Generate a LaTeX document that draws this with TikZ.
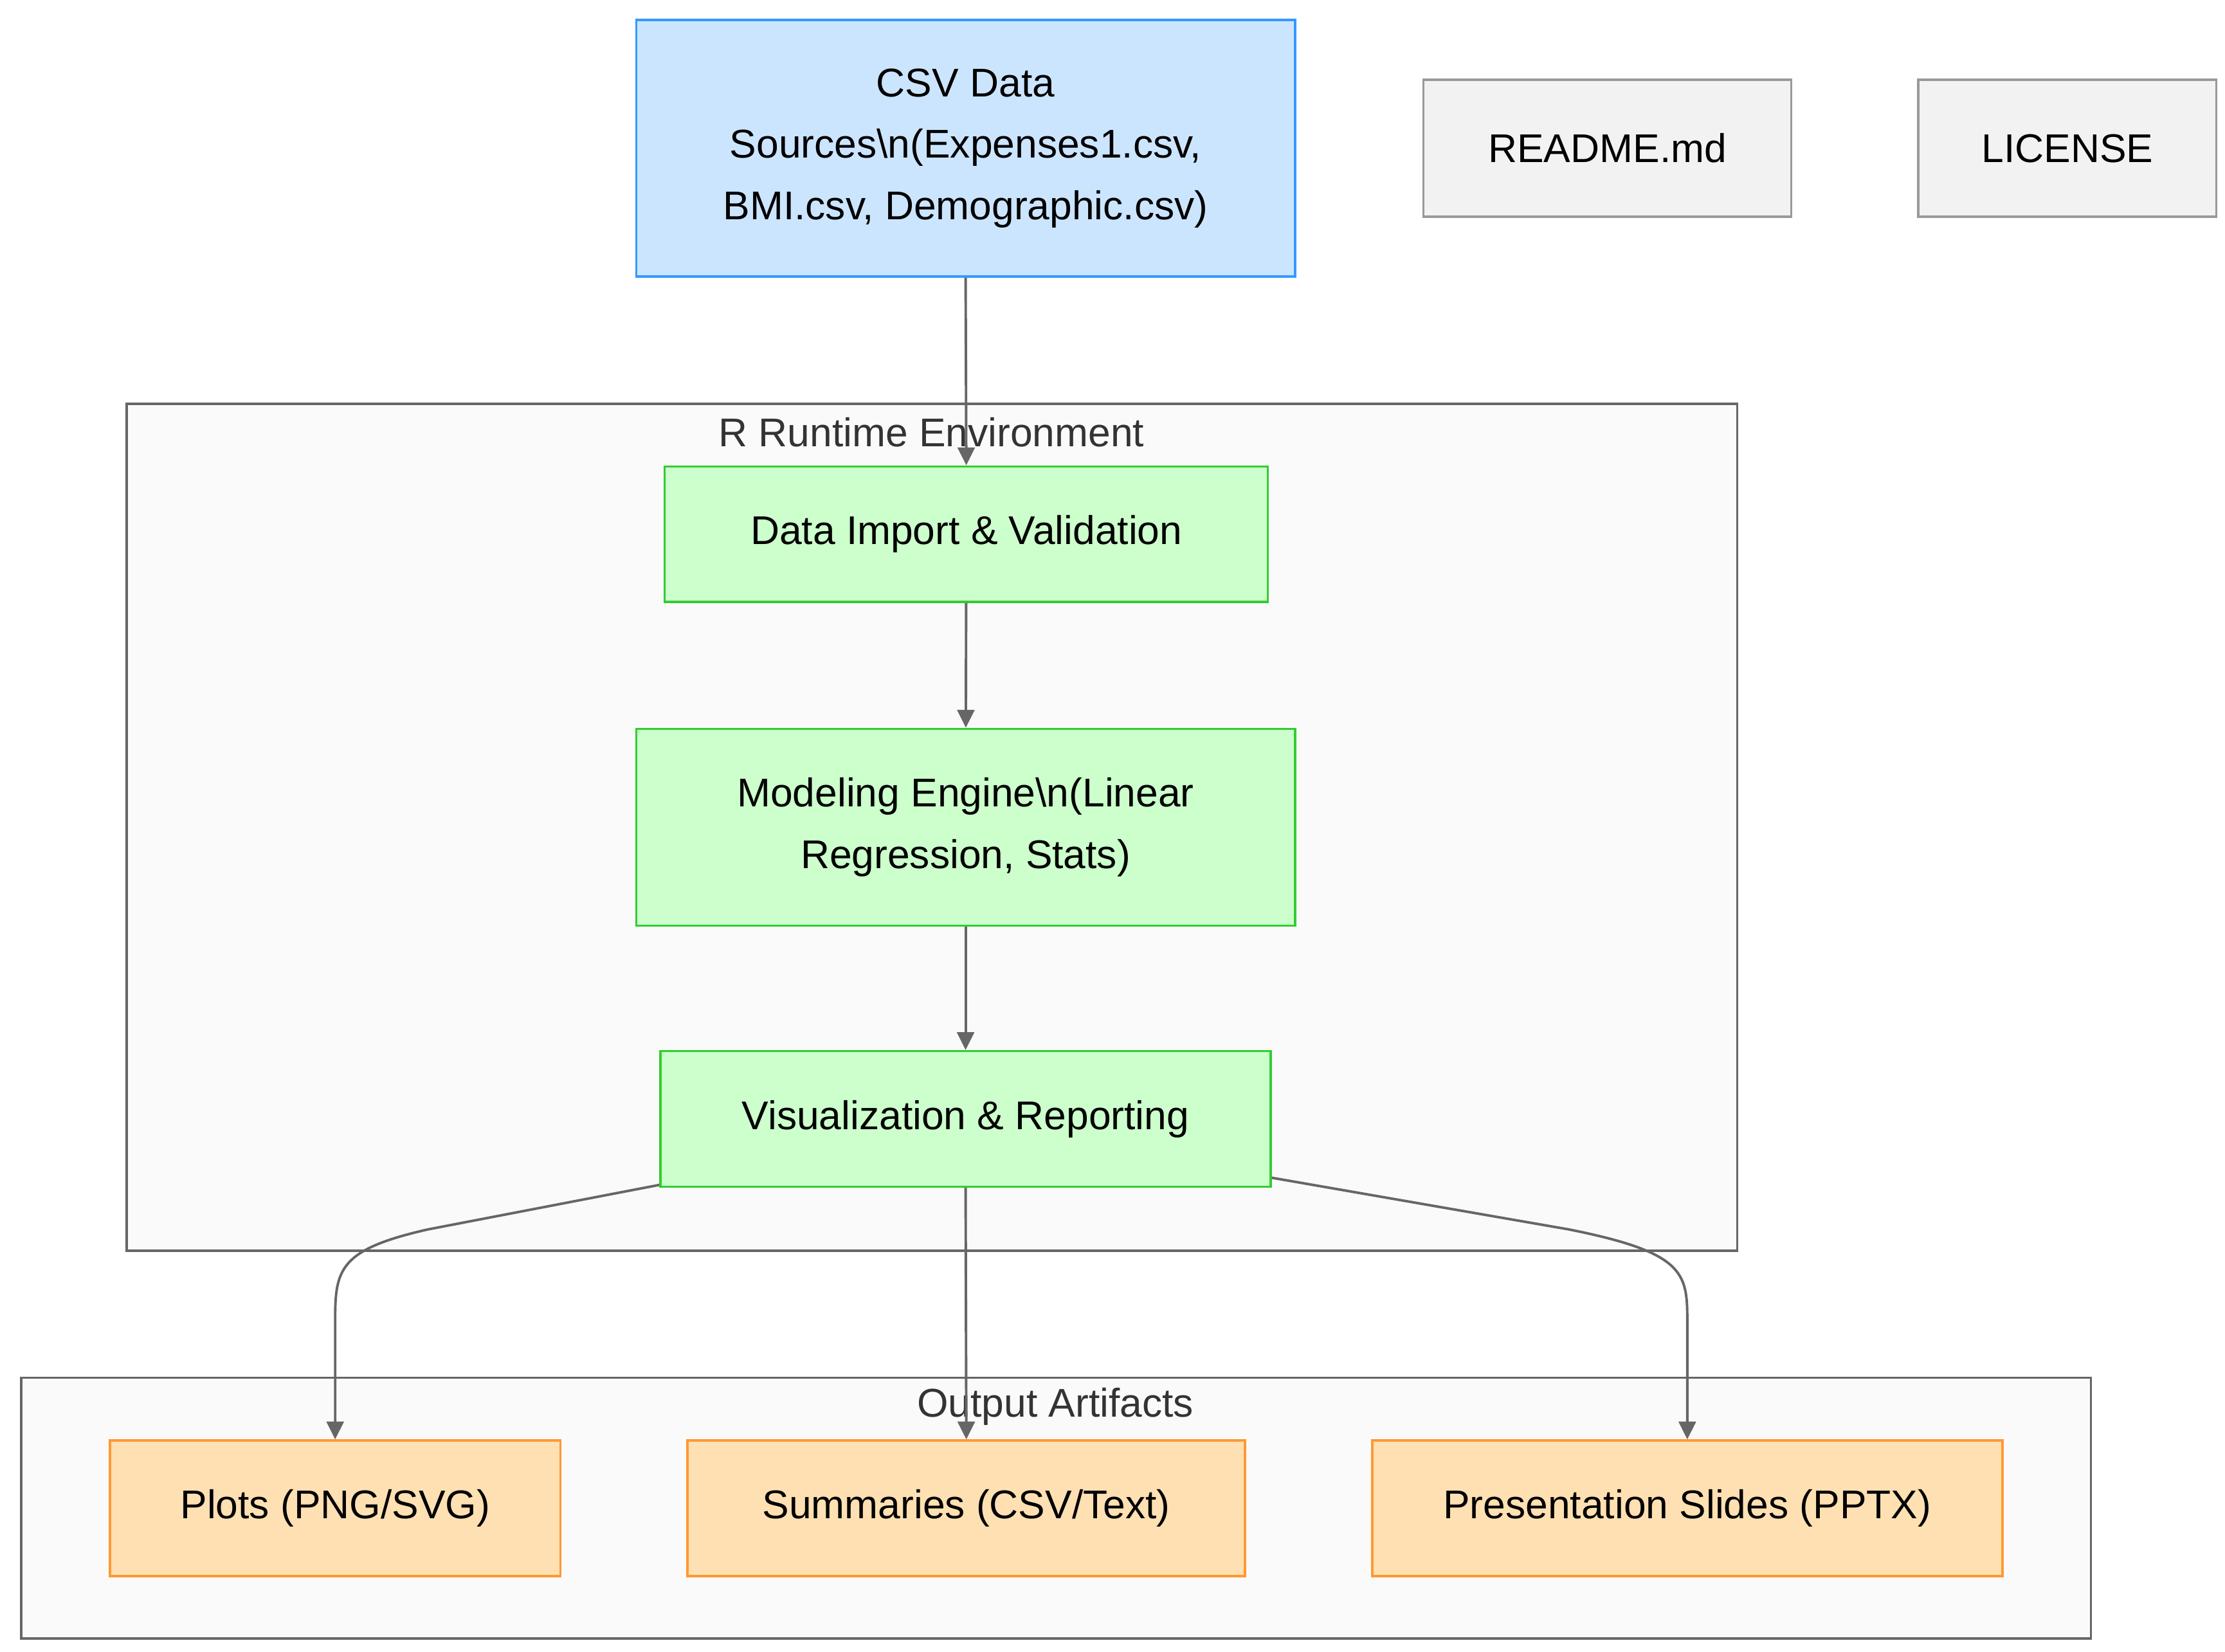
\documentclass[tikz,border=0pt]{standalone}
\usepackage{fontspec}
\setmainfont{Liberation Sans}
\usetikzlibrary{arrows.meta, positioning}
\definecolor{srcblue}{HTML}{CCE5FF}
\definecolor{srcline}{HTML}{3399FF}
\definecolor{rungreen}{HTML}{CCFFCC}
\definecolor{runline}{HTML}{33CC33}
\definecolor{outorange}{HTML}{FFE0B2}
\definecolor{outline}{HTML}{FF9933}
\definecolor{docgray}{HTML}{F2F2F2}
\definecolor{docline}{HTML}{999999}
\definecolor{groupfill}{HTML}{FAFAFA}
\definecolor{groupline}{HTML}{666666}
\definecolor{edgegray}{HTML}{666666}
\tikzset{
  box/.style={draw, line width=0.9pt, align=center, font=\fontsize{16}{24.5}\selectfont, inner sep=0pt},
  srcbox/.style={box, draw=srcline, fill=srcblue},
  runbox/.style={box, draw=runline, fill=rungreen},
  outbox/.style={box, draw=outline, fill=outorange},
  docbox/.style={box, draw=docline, fill=docgray},
  group/.style={draw=groupline, fill=groupfill, line width=1pt},
  grouplabel/.style={text=black!80, font=\fontsize{16}{18}\selectfont},
  edge/.style={draw=edgegray, line width=1pt, -{Triangle[length=0.25cm, width=0.24cm]}}
}
\begin{document}
\begin{tikzpicture}[x=0.02cm, y=-0.02cm]
  \useasboundingbox (0,0) rectangle (1560,1158);

  % Sources and docs
  \node[srcbox, minimum width=9.24cm, minimum height=3.6cm] (csv) at (677,104)
    {CSV Data\\Sources\textbackslash n(Expenses1.csv,\\BMI.csv, Demographic.csv)};
  \node[docbox, minimum width=5.16cm, minimum height=1.92cm] (readme) at (1127,104) {README.md};
  \node[docbox, minimum width=4.18cm, minimum height=1.92cm] (license) at (1449.5,104) {LICENSE};

  % R Runtime Environment
  \filldraw[group] (89,283) rectangle (1218,877);
  \node[grouplabel] (runlabel) at (653,303) {R Runtime Environment};
  \node[runbox, minimum width=8.46cm, minimum height=1.9cm] (import) at (677.5,374.5) {Data Import \& Validation};
  \node[runbox, minimum width=9.24cm, minimum height=2.76cm] (model) at (677,580)
    {Modeling Engine\textbackslash n(Linear\\Regression, Stats)};
  \node[runbox, minimum width=8.56cm, minimum height=1.9cm] (viz) at (677,784.5) {Visualization \& Reporting};

  % Output Artifacts
  \filldraw[group] (15,966) rectangle (1466,1149);
  \node[grouplabel] (outlabel) at (740,986) {Output Artifacts};
  \node[outbox, minimum width=6.32cm, minimum height=1.9cm] (plots) at (235,1057.5) {Plots (PNG/SVG)};
  \node[outbox, minimum width=7.82cm, minimum height=1.9cm] (summ) at (677.5,1057.5) {Summaries (CSV/Text)};
  \node[outbox, minimum width=8.84cm, minimum height=1.9cm] (slides) at (1183,1057.5) {Presentation Slides (PPTX)};

  % Flow
  \draw[edge] (csv.south) -- (import.north);
  \draw[edge] (import) -- (model);
  \draw[edge] (model) -- (viz);
  \draw[edge] (viz.south) -- (summ.north);
  \draw[edge] ([yshift=0.04cm]viz.south west) -- (300,862) .. controls (238,876) and (235,890) .. (235,925) -- (plots.north);
  \draw[edge] ([yshift=0.14cm]viz.south east) -- (1100,862) .. controls (1180,878) and (1183,892) .. (1183,925) -- (slides.north);
\end{tikzpicture}
\end{document}
